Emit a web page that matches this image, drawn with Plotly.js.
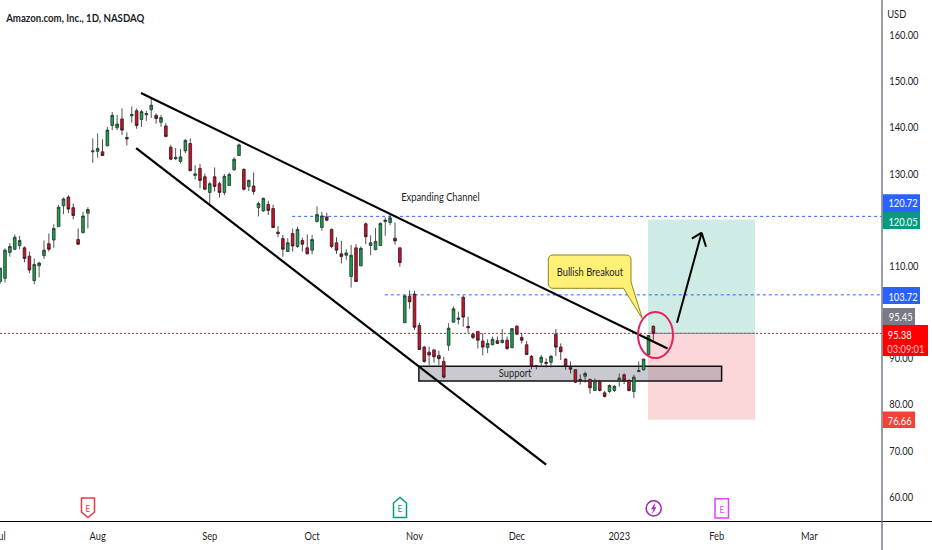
<!DOCTYPE html>
<html>
<head>
<meta charset="utf-8">
<script src="https://cdn.plot.ly/plotly-3.0.1.min.js"></script>
<style>html,body{margin:0;padding:0;background:#fff;overflow:hidden}</style>
</head>
<body>
<div id="chart" style="width:932px;height:550px"></div>
<script>
const openPrices = [106.6,107.3,112.9,113.6,114.4,113.9,112.1,106.8,110.0,112.2,114.8,115.6,118.5,123.0,124.9,122.6,115.7,117.2,121.4,134.7,134.8,134.7,136.0,140.4,139.9,141.8,137.8,142.5,143.6,141.7,142.7,143.8,142.6,141.1,140.3,135.7,133.2,132.6,134.9,136.5,129.6,131.1,129.3,125.9,129.3,127.8,125.9,127.4,130.8,133.9,130.9,127.2,127.3,122.6,121.9,123.3,122.4,117.3,115.9,113.1,117.0,114.2,115.5,113.9,113.4,119.6,118.3,120.6,117.9,115.0,112.6,112.3,107.7,113.9,110.0,119.1,114.4,113.5,114.4,119.6,119.4,116.0,113.9,97.7,103.4,103.9,97.1,92.4,91.3,91.8,90.6,89.3,92.8,97.8,98.4,103.2,96.9,95.2,95.8,93.7,92.3,92.9,93.8,93.4,93.9,92.3,96.9,94.5,92.9,90.4,88.4,89.1,89.1,89.1,95.2,92.4,89.8,88.0,87.5,85.4,86.1,85.4,83.0,84.9,82.5,82.8,83.0,85.1,86.4,85.2,82.8,87.1,87.5,90.8,96.9];
const highPrices = [109.6,113.8,114.9,116.8,116.5,114.2,113.1,111.6,110.9,115.5,117.0,119.0,123.2,124.8,125.3,123.5,118.1,121.7,122.7,137.6,138.7,137.4,140.1,143.3,142.7,144.1,138.9,144.5,144.1,143.8,143.6,146.3,143.0,142.7,140.9,136.2,135.5,135.3,137.4,137.6,131.8,132.1,130.0,128.2,131.3,128.2,129.9,130.2,133.5,136.5,131.1,128.7,130.2,123.9,124.8,124.1,123.2,118.6,116.7,116.0,118.1,118.5,116.1,116.8,116.7,122.9,121.7,121.5,118.1,116.2,115.4,113.6,114.5,114.7,114.2,119.4,116.6,118.2,119.4,120.5,121.2,119.4,114.0,103.7,104.7,104.6,97.7,92.7,92.5,91.9,91.6,90.3,97.6,101.2,100.1,103.6,99.0,95.5,95.8,95.4,94.1,94.7,94.7,96.3,94.7,96.5,97.2,95.4,93.7,90.7,88.5,90.7,90.0,90.7,96.3,93.2,90.0,89.3,87.6,86.5,87.1,85.6,85.6,85.3,82.9,84.3,84.2,86.7,86.7,85.4,86.4,89.3,89.9,95.0,97.1];
const lowPrices = [106.1,106.4,112.0,113.4,113.6,110.8,108.4,106.0,107.5,111.5,113.1,113.9,118.4,121.2,121.4,120.1,114.5,117.0,118.1,132.3,133.4,133.8,135.9,139.4,139.4,138.3,136.1,141.0,139.7,140.1,141.4,142.0,140.8,140.1,137.9,132.9,132.9,132.2,134.4,130.5,128.7,126.8,126.4,123.5,126.1,124.8,125.3,127.3,130.6,133.8,126.3,126.2,125.4,120.7,121.7,121.0,118.2,116.2,112.0,113.0,113.1,113.9,113.1,112.5,112.5,119.4,117.6,119.6,113.8,112.6,110.5,111.3,105.3,106.5,110.0,114.7,112.3,113.4,114.4,116.5,118.8,114.6,109.8,97.6,100.7,96.1,91.8,89.0,88.5,89.0,88.5,85.6,91.6,97.7,97.3,96.8,95.5,94.1,92.1,90.6,91.1,92.8,93.1,93.2,91.8,92.1,95.0,93.2,90.7,87.6,87.6,88.2,88.0,88.0,90.5,89.6,87.5,86.7,84.6,84.3,84.7,82.3,82.9,82.8,81.5,82.5,82.7,83.8,84.4,82.8,81.4,87.0,87.3,90.7,93.9];
const closePrices = [109.5,113.4,114.2,116.2,115.5,111.6,109.1,110.3,110.6,113.4,113.6,118.1,122.7,124.5,122.3,120.9,114.7,120.8,122.2,134.9,135.4,133.9,139.4,142.6,140.7,139.4,137.5,142.8,140.4,143.4,143.0,144.8,141.9,142.1,138.0,133.1,133.5,133.6,137.2,130.6,129.9,128.5,126.6,127.8,127.2,125.9,129.4,129.8,133.1,136.2,126.6,128.5,126.1,123.5,124.6,122.0,118.3,117.0,113.6,115.0,114.3,117.9,114.7,112.6,115.7,121.1,120.8,119.9,114.2,113.4,112.0,112.8,112.3,106.6,113.8,116.3,115.0,115.3,119.2,119.9,120.4,115.4,110.7,103.5,102.2,96.7,91.9,89.3,90.7,90.3,89.9,85.9,96.5,100.7,98.7,98.9,96.6,94.5,93.9,92.4,93.2,94.1,93.2,93.9,92.1,96.4,95.2,93.9,90.8,88.2,88.2,90.2,88.9,90.4,92.4,91.4,88.3,87.6,84.8,85.1,86.7,83.6,85.1,83.0,81.7,84.1,83.9,85.7,85.1,83.0,85.9,87.3,89.8,94.9,95.4];

const barIndex = openPrices.map((_, i) => i - 1);
const monthTicks = [-1, 19, 42, 63, 84, 105, 126, 146, 165];
const monthLabels = ['Jul', 'Aug', 'Sep', 'Oct', 'Nov', 'Dec', '2023', 'Feb', 'Mar'];
const priceTicks = [60, 70, 80, 90, 110, 130, 140, 150, 160];
const priceLabels = ['60.00', '70.00', '80.00', '90.00', '110.00', '130.00', '140.00', '150.00', '160.00'];

const FONT = 'Lato, "Open Sans", sans-serif';
const INK = '#1b1e27';
const plotW = 882, plotH = 521;
const px = x => x / plotW;
const py = y => 1 - y / plotH;
const P = (x, y) => px(x).toFixed(5) + ',' + py(y).toFixed(5);

const lineRef = 95.38, blueA = 120.72, blueB = 103.72, targetPrice = 120.05, stopPrice = 76.66;

function tagRect(color, y0, y1, x1) {
  return {type:'rect', xref:'paper', yref:'paper', x0:px(882.7), x1:px(x1), y0:py(y1), y1:py(y0), fillcolor:color, line:{width:0}};
}

const shapes = [
  {type:'rect', layer:'below', x0:131.9, x1:153.85, y0:lineRef, y1:targetPrice, fillcolor:'rgba(8,153,129,0.2)', line:{width:0}},
  {type:'rect', layer:'below', x0:131.9, x1:153.85, y0:stopPrice, y1:lineRef, fillcolor:'rgba(242,54,69,0.2)', line:{width:0}},
  {type:'line', layer:'below', x0:131.9, x1:153.85, y0:lineRef, y1:lineRef, line:{color:'#787b86', width:1}},
  {type:'line', layer:'below', xref:'paper', x0:0, x1:1, y0:lineRef, y1:lineRef, line:{color:'#ff0033', width:1, dash:'2px,2px'}},
  {type:'line', layer:'below', x0:58.9, x1:179.9, y0:blueA, y1:blueA, line:{color:'#2962ff', width:1, dash:'3px,3px'}},
  {type:'line', layer:'below', x0:77.9, x1:179.9, y0:blueB, y1:blueB, line:{color:'#2962ff', width:1, dash:'3px,3px'}},
  {type:'rect', layer:'below', x0:84.9, x1:147.0, y0:85.06, y1:88.24, fillcolor:'rgba(120,123,134,0.4)', line:{color:'#111', width:1.5}},
  {type:'line', x0:27.9, y0:147.42, x1:135.9, y1:92.1, line:{color:'#000', width:2.2}},
  {type:'line', x0:26.9, y0:135.5, x1:111, y1:66.94, line:{color:'#000', width:2.2}},
  {type:'circle', x0:129.85, x1:137.03, y0:90.04, y1:100.0, line:{color:'#e91e63', width:2}},
  {type:'line', x0:137.85, y0:97.69, x1:142.9, y1:117.18, line:{color:'#000', width:2}},
  {type:'line', x0:140.9, y0:115.88, x1:142.9, y1:117.18, line:{color:'#000', width:2}},
  {type:'line', x0:143.8, y0:114.15, x1:142.9, y1:117.18, line:{color:'#000', width:2}},
  // callout
  {type:'path', xref:'paper', yref:'paper', fillcolor:'#fff176', line:{color:'#8d8420', width:1},
   path:'M'+P(553,255)+' L'+P(626,255)+' Q'+P(631,255)+' '+P(631,260)+' L'+P(631,282)+
        ' L'+P(642.5,319)+' L'+P(623.5,288.3)+' L'+P(553,288.3)+' Q'+P(548.3,288.3)+' '+P(548.3,283)+' L'+P(548.3,260)+' Q'+P(548.3,255)+' '+P(553,255)+' Z'},
  // axis lines reaching past the plot
  {type:'line', xref:'paper', yref:'paper', x0:0, x1:932/plotW, y0:py(521.5), y1:py(521.5), line:{color:'#000', width:1}},
  {type:'line', xref:'paper', yref:'paper', x0:px(882), x1:px(882), y0:py(0), y1:py(550), line:{color:'#787b86', width:1.5}},
  // event icons
  {type:'path', xref:'paper', yref:'paper', fillcolor:'rgba(0,0,0,0)', line:{color:'#f23645', width:1.5},
   path:'M'+P(81.5,498)+' L'+P(94.5,498)+' L'+P(94.5,512)+' L'+P(88,517.5)+' L'+P(81.5,512)+' Z'},
  {type:'path', xref:'paper', yref:'paper', fillcolor:'rgba(0,0,0,0)', line:{color:'#089981', width:1.5},
   path:'M'+P(393.5,517.5)+' L'+P(406.5,517.5)+' L'+P(406.5,503)+' L'+P(400,497.5)+' L'+P(393.5,503)+' Z'},
  {type:'circle', xref:'paper', yref:'paper', x0:px(646.2), x1:px(661.2), y0:py(516), y1:py(500.8), fillcolor:'rgba(0,0,0,0)', line:{color:'#9c27b0', width:1.5}},
  {type:'path', xref:'paper', yref:'paper', fillcolor:'#9c27b0', line:{color:'#9c27b0', width:.5},
   path:'M'+P(655,503.5)+' L'+P(651.5,509)+' L'+P(653.8,509)+' L'+P(652.5,513)+' L'+P(656,507.5)+' L'+P(653.8,507.5)+' Z'},
  {type:'rect', xref:'paper', yref:'paper', x0:px(715), x1:px(728.5), y0:py(518), y1:py(498.8), fillcolor:'rgba(0,0,0,0)', line:{color:'#e040fb', width:1.5}},
  // price tags
  tagRect('#2962ff', 194.3, 212, 920),
  tagRect('#089981', 212, 229, 920),
  tagRect('#2962ff', 287, 304, 920),
  tagRect('#787b86', 308, 325, 915),
  tagRect('#ff0000', 325, 356, 928),
  tagRect('#f44336', 411.5, 428, 915)
];

function note(text, x, y, size, color, extra) {
  return Object.assign({xref:'paper', yref:'paper', x:px(x), y:py(y), xanchor:'center', yanchor:'middle', showarrow:false, borderpad:0,
    text:text, font:Object.assign({family:FONT, size:size, color:color}, extra||{})});
}

const annotations = [
  note('Amazon.com, Inc., 1D, NASDAQ', 75, 18, 11.5, INK, {weight:700}),
  note('Expanding Channel', 440, 196, 11.5, INK),
  note('Support', 514.5, 372.5, 11.5, INK),
  note('Bullish Breakout', 590, 271, 11.5, INK),
  note('USD', 897, 14, 11.5, INK),
  note('E', 88, 508, 10, '#f23645'),
  note('E', 400, 508, 10, '#089981'),
  note('E', 721.7, 508.5, 10, '#e040fb'),
  note('120.72', 903, 203, 11.5, '#fff'),
  note('120.05', 903, 221, 11.5, '#fff'),
  note('103.72', 903, 296, 11.5, '#fff'),
  note('95.45', 900, 316.7, 11.5, '#fff'),
  note('95.38', 900, 334, 11.5, '#fff'),
  note('03:09:01', 906, 348, 11.5, '#ffc9c9'),
  note('76.66', 900, 420, 11.5, '#fff')
];

const candles = {
  type:'candlestick', x:barIndex, open:openPrices, high:highPrices, low:lowPrices, close:closePrices,
  increasing:{line:{color:'#26302a', width:0.8}, fillcolor:'#17a050'},
  decreasing:{line:{color:'#2a1c1f', width:0.8}, fillcolor:'#cc1128'},
  whiskerwidth:0, hoverinfo:'skip', showlegend:false
};

const layout = {
  width:932, height:550, margin:{l:0, r:50, t:0, b:29, pad:0},
  paper_bgcolor:'#fff', plot_bgcolor:'#fff', showlegend:false, boxgap:0.22,
  font:{family:FONT, size:11.5, color:INK},
  xaxis:{range:[-1.026, 179.9], tickmode:'array', tickvals:monthTicks, ticktext:monthLabels, showgrid:false, zeroline:false,
    showline:false, ticks:'outside', ticklen:4, tickcolor:'rgba(0,0,0,0)', rangeslider:{visible:false},
    ticklabeloverflow:'allow', tickangle:0, tickfont:{family:FONT, size:11.5, color:INK}},
  yaxis:{side:'right', range:[54.74, 167.58], tickmode:'array', tickvals:priceTicks, ticktext:priceLabels, showgrid:false, zeroline:false,
    showline:false, ticks:'outside', ticklen:4, tickcolor:'rgba(0,0,0,0)', tickfont:{family:FONT, size:11.5, color:INK}},
  shapes:shapes, annotations:annotations
};

// The source type is narrower than any installed face: condense the real text a little.
function condense(root) {
  root.querySelectorAll('svg text').forEach(t => {
    const w = t.getComputedTextLength();
    if (w > 0) {
      const ratio = t.textContent.startsWith('Amazon') ? 0.84 : 0.81;
      t.setAttribute('textLength', (w * ratio).toFixed(2));
      t.setAttribute('lengthAdjust', 'spacingAndGlyphs');
    }
  });
}
Plotly.newPlot('chart', [candles], layout, {displayModeBar:false, staticPlot:true}).then(gd => condense(gd));
</script>
</body>
</html>
